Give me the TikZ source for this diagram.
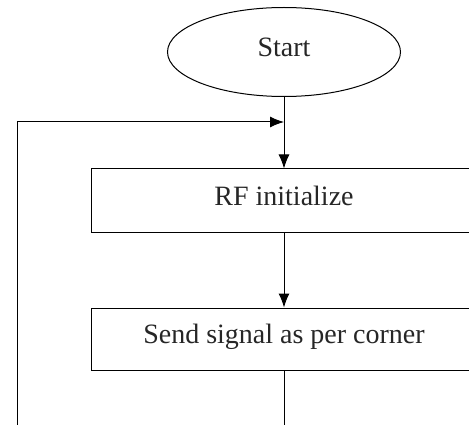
\documentclass[tikz,border=0pt]{standalone}
\usepackage{fontspec}
\setmainfont{Liberation Serif}
\usepackage{tikz}
\usetikzlibrary{arrows.meta}
\usetikzlibrary{shapes.geometric}
\tikzset{>=latex}
\tikzstyle{flow} = [-{Latex[length=14pt, width=11pt]}, line width=1pt]
\tikzstyle{box} = [rectangle, draw=black, line width=1pt, font=\fontsize{28}{32}\selectfont, text=black!85, text height=20pt, text depth=11pt]

\begin{document}
\begin{tikzpicture}[x=1pt, y=-1pt]
\useasboundingbox (0,0) rectangle (469,425);
\clip (0,0) rectangle (469,425);
\node [box, ellipse, minimum width=233pt, minimum height=89pt, inner sep=0pt] (S) at (284,52) {Start};
\node [box, minimum width=386pt, minimum height=64pt] (R) at (284,201) {RF initialize};
\node [box, minimum width=386pt, minimum height=62pt] (P) at (284,339) {Send signal as per corner};
\coordinate (J) at (284,122);
\coordinate (L) at (17,122);
\coordinate (B) at (17,430);
\coordinate (E) at (284,430);
\draw [flow] (S) -- (R);
\draw [flow] (B) -- (L) -- (J);
\draw [flow] (R) -- (P);
\draw [line width=1pt] (P) -- (E);
\end{tikzpicture}
\end{document}
